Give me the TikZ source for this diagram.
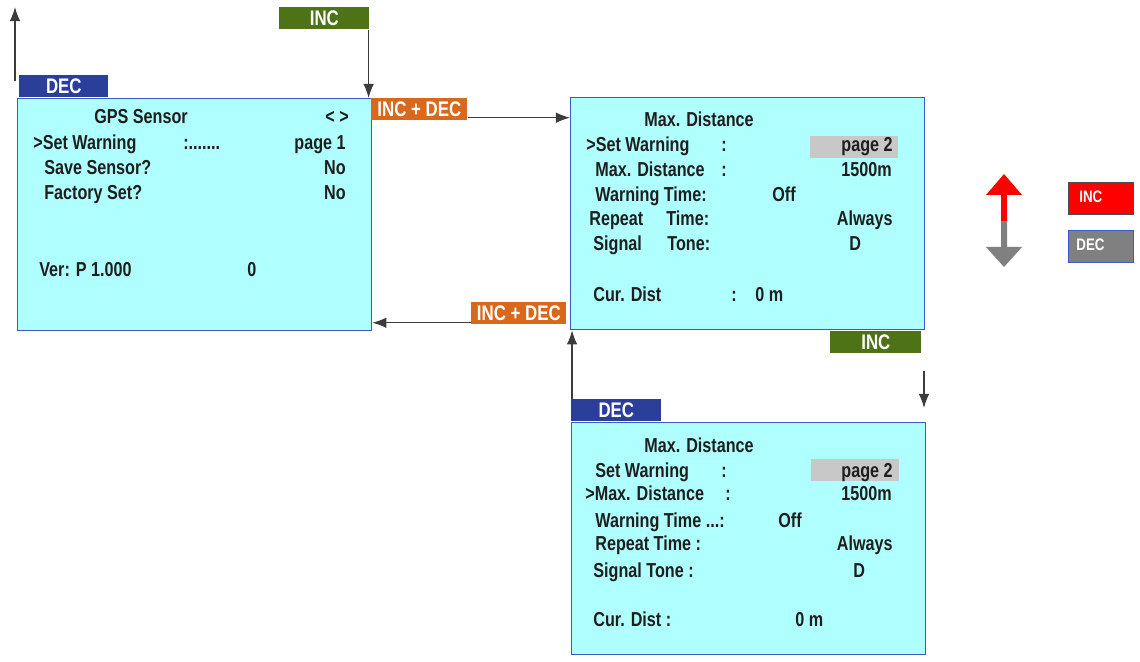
\documentclass[tikz,border=0pt]{standalone}
\usepackage{fontspec}
\setmainfont{Liberation Sans}[FakeStretch=0.8]
\usetikzlibrary{arrows.meta,positioning,calc}
\definecolor{scrFill}{RGB}{176,255,255}
\definecolor{scrLine}{RGB}{60,90,196}
\definecolor{tabBlue}{RGB}{43,63,154}
\definecolor{tabGreen}{RGB}{78,114,22}
\definecolor{tabOrange}{RGB}{217,104,28}
\definecolor{hlGray}{RGB}{200,200,200}
\definecolor{txtDark}{RGB}{30,30,30}
\definecolor{lineGray}{RGB}{60,60,60}
\definecolor{legRed}{RGB}{255,0,0}
\definecolor{legGray}{RGB}{128,128,128}

\begin{document}
\begin{tikzpicture}[
    x=0.02cm, y=-0.02cm,
    screen/.style={rectangle, draw=scrLine, line width=0.8pt, fill=scrFill, anchor=north west, inner sep=0pt, minimum width=7.08cm, minimum height=4.64cm},
    tab/.style={rectangle, anchor=north west, inner sep=0pt, minimum height=0.44cm, text=white, font=\fontsize{12}{13}\selectfont\bfseries},
    hl/.style={rectangle, fill=hlGray, anchor=north west, inner sep=0pt, minimum width=1.76cm, minimum height=0.44cm},
    txt/.style={anchor=base west, inner sep=0pt, text=txtDark, font=\fontsize{11.5}{13}\selectfont\bfseries},
    rtxt/.style={txt, anchor=base east},
    ctxt/.style={txt, anchor=base},
    arrow/.style={-{Latex[length=8pt,width=6pt]}, draw=lineGray, line width=0.7pt},
    legbox/.style={rectangle, anchor=north west, inner sep=0pt, line width=0.8pt, minimum width=1.3cm, minimum height=0.64cm},
    legtxt/.style={anchor=base west, inner sep=0pt, text=white, font=\fontsize{9.5}{10}\selectfont\bfseries}
]
    \useasboundingbox (0,0) rectangle (1140,662);

    % Screens
    \node[screen] (gps) at (17,98) {};
    \node[screen] (max1) at (570,97) {};
    \node[screen] (max2) at (571,422) {};

    \node[hl] (hlA) at (810,136) {};
    \node[hl] (hlB) at (811,459) {};

    % Page 1
    \node[ctxt] (gTitle) at (141,124) {GPS Sensor};
    \node[txt] (gNav) at (325,124) {< >};
    \node[txt] (g1) at (33,150) {>Set Warning};
    \node[txt] (g1c) at (183,150) {:.......};
    \node[rtxt] (g1v) at (346,150) {page 1};
    \node[txt] (g2) at (44,175) {Save Sensor?};
    \node[rtxt] (g2v) at (346,175) {No};
    \node[txt] (g3) at (44,200) {Factory Set?};
    \node[rtxt] (g3v) at (346,200) {No};
    \node[txt] (g4) at (39,277) {Ver: P 1.000};
    \node[txt] (g4v) at (247,277) {0};

    % Page 2, first line selected
    \node[ctxt] (mTitle) at (699,127) {Max. Distance};
    \node[txt] (m1) at (586,152) {>Set Warning};
    \node[txt] (m1c) at (721,152) {:};
    \node[rtxt] (m1v) at (893,152) {page 2};
    \node[txt] (m2) at (595,177) {Max. Distance};
    \node[txt] (m2c) at (721,177) {:};
    \node[rtxt] (m2v) at (892,177) {1500m};
    \node[txt] (m3) at (595,202) {Warning Time:};
    \node[txt] (m3v) at (772,202) {Off};
    \node[txt] (m4) at (589,226) {Repeat};
    \node[txt] (m4b) at (666,226) {Time:};
    \node[rtxt] (m4v) at (893,226) {Always};
    \node[txt] (m5) at (593,251) {Signal};
    \node[txt] (m5b) at (667,251) {Tone:};
    \node[txt] (m5v) at (849,251) {D};
    \node[txt] (m6) at (593,302) {Cur. Dist};
    \node[txt] (m6c) at (731,302) {:};
    \node[txt] (m6v) at (755,302) {0 m};

    % Page 2, second line selected
    \node[ctxt] (nTitle) at (699,452) {Max. Distance};
    \node[txt] (n1) at (595,477) {Set Warning};
    \node[txt] (n1c) at (721,477) {:};
    \node[rtxt] (n1v) at (893,477) {page 2};
    \node[txt] (n2) at (585,500) {>Max. Distance};
    \node[txt] (n2c) at (725,500) {:};
    \node[rtxt] (n2v) at (892,500) {1500m};
    \node[txt] (n3) at (595,527) {Warning Time ...:};
    \node[txt] (n3v) at (778,527) {Off};
    \node[txt] (n4) at (595,550) {Repeat Time :};
    \node[rtxt] (n4v) at (893,550) {Always};
    \node[txt] (n5) at (593,577) {Signal Tone :};
    \node[txt] (n5v) at (853,577) {D};
    \node[txt] (n6) at (593,626) {Cur. Dist :};
    \node[txt] (n6v) at (795,626) {0 m};

    % Key tabs
    \node[tab, fill=tabBlue, minimum width=1.78cm] (decA) at (19,75) {DEC};
    \node[tab, fill=tabGreen, minimum width=1.8cm] (incA) at (279,7) {INC};
    \node[tab, fill=tabOrange, minimum width=1.92cm] (idA) at (371,98) {INC + DEC};
    \node[tab, fill=tabOrange, minimum width=1.9cm] (idB) at (471,302) {INC + DEC};
    \node[tab, fill=tabGreen, minimum width=1.82cm] (incB) at (830,331) {INC};
    \node[tab, fill=tabBlue, minimum width=1.8cm] (decB) at (571,399) {DEC};

    \coordinate (upFoot) at (15,81);
    \coordinate (upTip) at (15,7);
    \coordinate (dnTop) at (924,371);
    \coordinate (dnTip) at (924,408);

    \draw[arrow] (upFoot) -- (upTip);
    \draw[arrow] ([xshift=-0.6pt]incA.south east) -- ([xshift=-0.6pt]incA.south east |- gps.north);
    \draw[arrow] ([yshift=1.7pt]idA.south east) -- ([yshift=1.7pt]idA.south east -| max1.west);
    \draw[arrow] ([yshift=1.1pt]idB.south west) -- ([yshift=1.1pt]idB.south west -| gps.east);
    \draw[arrow] ([xshift=0.6pt]decB.north west) -- ([xshift=0.6pt]decB.north west |- max1.south);
    \draw[arrow] (dnTop) -- (dnTip);

    % Legend
    \fill[legRed] (1004,174) -- (1022,195) -- (1007,195) -- (1007,221) -- (1001,221) -- (1001,195) -- (986,195) -- cycle;
    \fill[legGray] (1001,221) -- (1007,221) -- (1007,247) -- (1022,247) -- (1004,267) -- (986,247) -- (1001,247) -- cycle;
    \node[legbox, fill=legRed, draw=black!70] (legInc) at (1068,182) {};
    \node[legbox, fill=legGray, draw=scrLine] (legDec) at (1068,230) {};
    \node[legtxt] (legIncT) at (1079,203) {INC};
    \node[legtxt] (legDecT) at (1076,251) {DEC};
\end{tikzpicture}
\end{document}
